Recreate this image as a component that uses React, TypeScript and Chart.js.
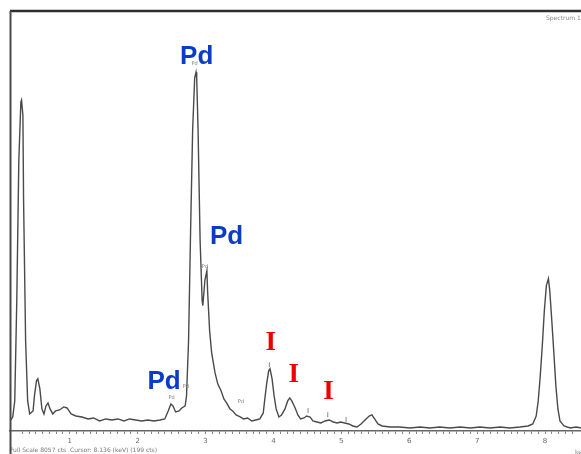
import React, { useEffect, useRef } from 'react';
import { Chart, registerables } from 'chart.js';

Chart.register(...registerables);

const energyKeV = [
  0.12, 0.16, 0.19, 0.22, 0.25, 0.28, 0.29, 0.31, 0.32, 0.35,
  0.38, 0.41, 0.46, 0.48, 0.51, 0.53, 0.56, 0.59, 0.62, 0.65,
  0.68, 0.71, 0.75, 0.79, 0.85, 0.91, 0.96, 1.02, 1.09, 1.18,
  1.27, 1.35, 1.44, 1.53, 1.62, 1.71, 1.80, 1.88, 1.97, 2.06,
  2.15, 2.24, 2.33, 2.40, 2.45, 2.49, 2.52, 2.56, 2.61, 2.65,
  2.70, 2.72, 2.75, 2.78, 2.81, 2.84, 2.86, 2.87, 2.89, 2.92,
  2.95, 2.96, 2.99, 3.02, 3.03, 3.06, 3.09, 3.14, 3.18, 3.23,
  3.27, 3.31, 3.36, 3.40, 3.45, 3.51, 3.56, 3.62, 3.68, 3.74,
  3.80, 3.85, 3.87, 3.90, 3.93, 3.95, 3.98, 4.01, 4.04, 4.08,
  4.12, 4.17, 4.21, 4.24, 4.27, 4.32, 4.36, 4.40, 4.45, 4.49,
  4.54, 4.58, 4.64, 4.70, 4.76, 4.82, 4.88, 4.94, 4.99, 5.05,
  5.11, 5.17, 5.23, 5.29, 5.35, 5.41, 5.45, 5.49, 5.54, 5.60,
  5.72, 5.86, 6.01, 6.16, 6.30, 6.45, 6.60, 6.75, 6.90, 7.04,
  7.19, 7.34, 7.48, 7.63, 7.75, 7.82, 7.87, 7.90, 7.93, 7.96,
  7.99, 8.02, 8.05, 8.07, 8.10, 8.13, 8.16, 8.19, 8.22, 8.28,
  8.37, 8.46, 8.53,
];

const counts = [
  192, 269, 577, 2500, 5190, 6307, 6346, 6057, 4423, 1731,
  577, 327, 385, 673, 962, 1000, 808, 423, 327, 481,
  538, 423, 327, 385, 404, 462, 442, 327, 288, 269,
  231, 250, 192, 231, 212, 231, 192, 231, 212, 192,
  212, 192, 212, 231, 385, 519, 481, 365, 385, 442,
  481, 673, 1731, 3846, 5769, 6769, 6884, 6769, 5769, 3654,
  2500, 2404, 2885, 3077, 2692, 1923, 1500, 1115, 904, 769,
  615, 538, 423, 385, 308, 269, 231, 250, 192, 212,
  231, 346, 577, 904, 1154, 1192, 1000, 673, 423, 269,
  308, 423, 577, 635, 577, 442, 308, 231, 250, 288,
  269, 192, 173, 154, 192, 212, 173, 154, 173, 154,
  135, 96, 77, 135, 212, 288, 308, 231, 135, 96,
  77, 77, 58, 77, 58, 77, 58, 77, 58, 77,
  58, 77, 58, 77, 96, 135, 288, 577, 1058, 1635,
  2308, 2788, 2923, 2692, 2115, 1500, 865, 423, 192, 96,
  58, 77, 58,
];

const FULL_SCALE_CTS = 8057;
const X_MIN_KEV = 0.12;
const X_MAX_KEV = 8.53;

const footerText = 'Full Scale 8057 cts  Cursor: 8.136 (keV) (199 cts)';
const spectrumTitle = 'Spectrum 1';
const unitText = 'keV';

// Big element annotations
const bigLabelText = ['Pd', 'Pd', 'Pd', 'I', 'I', 'I'];
const bigLabelKeV = [2.87, 3.31, 2.39, 3.96, 4.30, 4.81];
const bigLabelCts = [7173, 3731, 942, 1692, 1077, 750];

// Small software line markers
const smallLabelText = ['Pd', 'Pd', 'Pd', 'Pd', 'Pd'];
const smallLabelKeV = [2.84, 2.99, 2.50, 2.71, 3.52];
const smallLabelCts = [7038, 3154, 635, 846, 558];

const markerKeV = [3.94, 4.51, 4.80, 5.07];
const markerCts = [1320, 440, 360, 270];

const overlayPlugin = {
  id: 'overlay',
  afterDraw(chart: any) {
    const { ctx, chartArea, scales } = chart;
    const x = scales.x;
    const y = scales.y;
    ctx.save();
    ctx.strokeStyle = '#2e2e2e';
    ctx.lineWidth = 2.5;
    ctx.beginPath();
    ctx.moveTo(chartArea.left, chartArea.top);
    ctx.lineTo(chart.width, chartArea.top);
    ctx.stroke();
    ctx.strokeStyle = '#4a4a4a';
    ctx.lineWidth = 2;
    ctx.beginPath();
    ctx.moveTo(chartArea.left + 0.5, chartArea.top);
    ctx.lineTo(chartArea.left + 0.5, chart.height);
    ctx.stroke();

    ctx.strokeStyle = '#888';
    ctx.lineWidth = 1;
    markerKeV.forEach((e, i) => {
      const px = x.getPixelForValue(e);
      const py = y.getPixelForValue(markerCts[i]);
      ctx.beginPath();
      ctx.moveTo(px, py);
      ctx.lineTo(px, py + 5);
      ctx.stroke();
    });

    ctx.fillStyle = '#777';
    ctx.font = '5px "DejaVu Sans"';
    ctx.textAlign = 'center';
    ctx.textBaseline = 'middle';
    smallLabelText.forEach((t, i) => {
      ctx.fillText(t, x.getPixelForValue(smallLabelKeV[i]), y.getPixelForValue(smallLabelCts[i]));
    });

    bigLabelText.forEach((t, i) => {
      const px = x.getPixelForValue(bigLabelKeV[i]);
      const py = y.getPixelForValue(bigLabelCts[i]);
      if (t === 'Pd') {
        ctx.fillStyle = '#0a3cc8';
        ctx.font = 'bold 26px "Liberation Sans", Arial, sans-serif';
      } else {
        ctx.fillStyle = '#ee0000';
        ctx.font = 'bold 27px "Liberation Serif", "Times New Roman", serif';
      }
      ctx.fillText(t, px, py);
    });

    ctx.fillStyle = '#888';
    ctx.font = '6px "DejaVu Sans"';
    ctx.textAlign = 'left';
    ctx.fillText(spectrumTitle, 546, 18);
    ctx.fillText(unitText, 575, 452);
    ctx.restore();
  },
};

export default function App() {
  const canvasRef = useRef<HTMLCanvasElement | null>(null);

  useEffect(() => {
    if (!canvasRef.current) return;
    const points = energyKeV.map((e, i) => ({ x: e, y: counts[i] }));
    const chart = new Chart(canvasRef.current, {
      type: 'line',
      data: {
        datasets: [
          {
            data: points,
            borderColor: '#4a4a4a',
            borderWidth: 1.4,
            pointRadius: 0,
            tension: 0,
            fill: false,
          },
        ],
      },
      options: {
        animation: false,
        responsive: false,
        devicePixelRatio: 1,
        layout: { padding: { left: 10, top: 11, right: 0, bottom: 0 } },
        plugins: {
          legend: { display: false },
          tooltip: { enabled: false },
          title: { display: false },
        },
        scales: {
          x: {
            type: 'linear',
            min: X_MIN_KEV,
            max: X_MAX_KEV,
            afterBuildTicks: (scale: any) => {
              scale.ticks = scale.ticks.filter(
                (t: any) => Math.abs(t.value * 10 - Math.round(t.value * 10)) < 1e-6
              );
            },
            afterFit: (scale: any) => {
              scale.height = 23;
            },
            ticks: {
              stepSize: 0.1,
              maxTicksLimit: 200,
              autoSkip: false,
              maxRotation: 0,
              padding: 3,
              color: '#666',
              font: { size: 7, family: 'DejaVu Sans' },
              callback: (v: any) => {
                const n = Number(v);
                return Math.abs(n - Math.round(n)) < 1e-6 ? String(Math.round(n)) : '';
              },
            },
            grid: {
              drawOnChartArea: false,
              drawTicks: true,
              tickLength: 3,
              tickColor: '#888',
              tickWidth: 1,
            },
            border: { display: true, color: '#666', width: 1.5 },
            title: {
              display: true,
              text: footerText,
              align: 'start',
              color: '#777',
              font: { size: 6, family: 'DejaVu Sans' },
              padding: { top: 0, bottom: 0 },
            },
          },
          y: {
            display: false,
            min: 0,
            max: FULL_SCALE_CTS,
          },
        },
      },
      plugins: [overlayPlugin],
    });
    return () => chart.destroy();
  }, []);

  return (
    <div style={{ position: 'fixed', left: 0, top: 0, width: 581, height: 454, background: '#fff' }}>
      <canvas ref={canvasRef} width={581} height={454} style={{ display: 'block' }} />
    </div>
  );
}
